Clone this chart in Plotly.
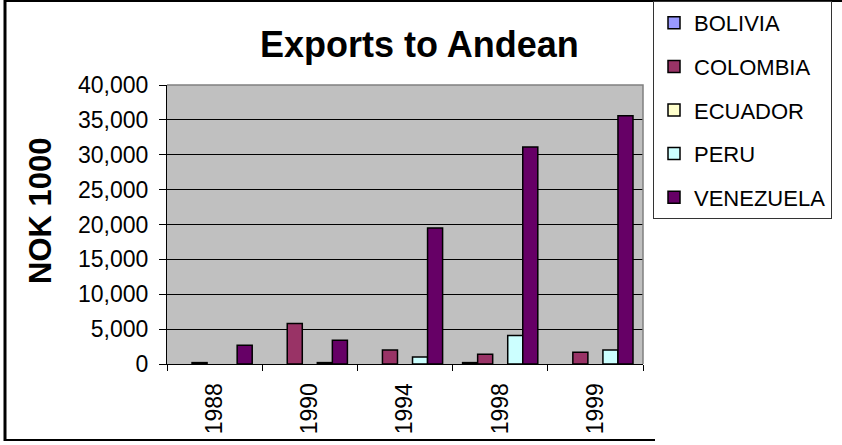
import plotly.graph_objects as go

years = ["1988", "1990", "1994", "1998", "1999"]
bolivia = [None, None, None, 200, None]
colombia = [200, 5800, 2000, 1400, 1700]
ecuador = [None, None, None, None, None]
peru = [None, 200, 1000, 4100, 2000]
venezuela = [2700, 3400, 19500, 31100, 35600]

series = [
    ("BOLIVIA", bolivia, "#9999FF"),
    ("COLOMBIA", colombia, "#993366"),
    ("ECUADOR", ecuador, "#FFFFCC"),
    ("PERU", peru, "#CCFFFF"),
    ("VENEZUELA", venezuela, "#660066"),
]

FONT = "Liberation Sans, Arial, sans-serif"

W, H = 842, 445
L, R, T, B = 167, 643, 85, 364  # plot area in px

def px_x(x):
    return (x - L) / (R - L)

def px_y(y):
    return (B - y) / (B - T)

fig = go.Figure()
for name, vals, col in series:
    fig.add_trace(go.Bar(
        x=years, y=vals, name=name, legendgroup=name,
        marker=dict(color=col, line=dict(color="black", width=1.5)),
    ))

fig.update_layout(
    width=W, height=H,
    margin=dict(l=L, r=W - R, t=T, b=H - B, pad=0, autoexpand=False),
    paper_bgcolor="white",
    plot_bgcolor="#C0C0C0",
    barmode="group",
    bargap=0.21,
    bargroupgap=0,
    font=dict(family=FONT, color="black"),
    showlegend=True,
    legend=dict(
        xref="container", yref="container",
        x=653 / W, y=1 - 1 / H, xanchor="left", yanchor="top",
        bgcolor="white", bordercolor="#333333", borderwidth=1,
        font=dict(size=22, family=FONT),
        tracegroupgap=12,
        itemclick=False, itemdoubleclick=False,
    ),
    xaxis=dict(
        type="category", tickson="boundaries",
        ticks="outside", ticklen=6, tickcolor="black",
        tickangle=-90, tickfont=dict(size=23, family=FONT),
        ticklabelstandoff=9,
        showline=True, linecolor="black", linewidth=1,
        showgrid=False, zeroline=False,
    ),
    yaxis=dict(
        range=[0, 40000], dtick=5000, tickformat=",d",
        ticks="outside", ticklen=7, tickcolor="black",
        tickfont=dict(size=23, family=FONT),
        ticklabelstandoff=6,
        showline=True, linecolor="black", linewidth=1,
        showgrid=True, gridcolor="black", gridwidth=1,
        zeroline=False,
    ),
    annotations=[
        dict(text="<b>Exports to Andean</b>", x=px_x(419), y=px_y(45),
             xref="paper", yref="paper", showarrow=False,
             xanchor="center", yanchor="middle",
             font=dict(size=36, family=FONT)),
        dict(text="<b>NOK 1000</b>", x=px_x(40), y=px_y(211),
             xref="paper", yref="paper", showarrow=False, textangle=-90,
             xanchor="center", yanchor="middle",
             font=dict(size=31, family=FONT)),
    ],
    shapes=[
        dict(type="path", path="M 0,1 L 1,1 L 1,0", xref="paper", yref="paper",
             line=dict(color="#808080", width=1.5)),
        dict(type="line", xref="paper", yref="paper",
             x0=px_x(5), x1=px_x(5), y0=px_y(0), y1=px_y(441),
             line=dict(color="black", width=3)),
        dict(type="line", xref="paper", yref="paper",
             x0=px_x(4), x1=px_x(842), y0=px_y(1), y1=px_y(1),
             line=dict(color="black", width=2)),
        dict(type="line", xref="paper", yref="paper",
             x0=px_x(4), x1=px_x(655), y0=px_y(440), y1=px_y(440),
             line=dict(color="black", width=2)),
    ],
)

fig.write_html("out.html", config={"displayModeBar": False},
               post_script="document.body.style.margin='0';")
